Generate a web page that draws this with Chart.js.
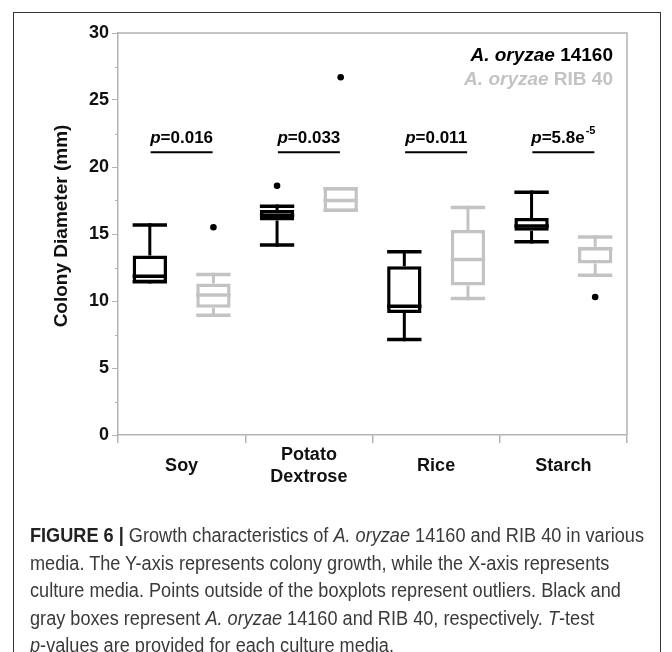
<!DOCTYPE html>
<html>
<head>
<meta charset="utf-8">
<script src="https://cdn.jsdelivr.net/npm/chart.js@4.4.1/dist/chart.umd.min.js"></script>
<style>
  html, body { margin: 0; padding: 0; background: #fff; }
  #wrap { position: relative; width: 672px; height: 652px; overflow: hidden; }
  #c { position: absolute; left: 0; top: 0; }
  #frame { position: absolute; left: 13px; top: 12px; width: 648px; height: 700px;
           border: 1px solid #333; box-sizing: border-box; }
  #caption { position: absolute; left: 30px; top: 522px; font-family: "Liberation Sans", Arial, sans-serif;
             font-size: 19.5px; color: #3a3a3a; line-height: 27.6px; transform-origin: 0 0; white-space: nowrap; }
  #caption b { color: #222; }
</style>
</head>
<body>
<div id="wrap">
  <div id="frame"></div>
  <canvas id="c" width="672" height="652"></canvas>
  <div id="caption">
    <div id="cap1"><b>FIGURE 6 |</b> Growth characteristics of <i>A. oryzae</i> 14160 and RIB 40 in various</div>
    <div>media. The Y-axis represents colony growth, while the X-axis represents</div>
    <div>culture media. Points outside of the boxplots represent outliers. Black and</div>
    <div>gray boxes represent <i>A. oryzae</i> 14160 and RIB 40, respectively. <i>T</i>-test</div>
    <div><i>p</i>-values are provided for each culture media.</div>
  </div>
</div>
<script>
// ---- data ----
const categories = ['Soy', ['Potato', 'Dextrose'], 'Rice', 'Starch'];
const seriesNames = ['A. oryzae 14160', 'A. oryzae RIB 40'];

const a14160Min    = [11.3, 14.05, 7.0, 14.3];
const a14160Q1     = [11.35, 16.0, 9.1, 15.25];
const a14160Median = [11.85, 16.4, 9.6, 15.6];
const a14160Q3     = [13.4, 16.8, 12.6, 16.2];
const a14160Max    = [15.8, 17.2, 13.8, 18.25];
const a14160Outliers = [[], [18.6], [], []];

const rib40Min    = [8.8, 16.65, 10.05, 11.8];
const rib40Q1     = [9.5, 16.65, 11.15, 12.8];
const rib40Median = [10.45, 17.5, 13.1, 13.9];
const rib40Q3     = [11.3, 18.5, 15.3, 14.05];
const rib40Max    = [12.1, 18.5, 17.1, 14.9];
const rib40Outliers = [[15.5], [26.7], [], [10.3]];

const pLabels = [['0.016', ''], ['0.033', ''], ['0.011', ''], ['5.8e', '-5']];
const yTicks = [0, 5, 10, 15, 20, 25, 30];

// ---- styling ----
const BLACK = '#000000';
const GRAY = '#c3c3c3';
const AXIS = '#b3b3b3';
const FONT = '"Liberation Sans", Arial, sans-serif';

const stats = [
  { min: a14160Min, q1: a14160Q1, med: a14160Median, q3: a14160Q3, max: a14160Max, out: a14160Outliers, color: BLACK },
  { min: rib40Min, q1: rib40Q1, med: rib40Median, q3: rib40Q3, max: rib40Max, out: rib40Outliers, color: GRAY }
];

const boxPlugin = {
  id: 'boxExtras',
  afterDatasetsDraw(chart) {
    const ctx = chart.ctx;
    const y = chart.scales.y;
    const x = chart.scales.x;
    const area = chart.chartArea;
    ctx.save();
    stats.forEach((s, d) => {
      const meta = chart.getDatasetMeta(d);
      meta.data.forEach((el, i) => {
        const cx = el.x, w = el.width;
        ctx.strokeStyle = s.color;
        ctx.lineCap = 'butt';
        ctx.lineWidth = 3;
        ctx.beginPath();
        ctx.moveTo(cx, y.getPixelForValue(s.q3[i]));
        ctx.lineTo(cx, y.getPixelForValue(s.max[i]));
        ctx.moveTo(cx, y.getPixelForValue(s.q1[i]));
        ctx.lineTo(cx, y.getPixelForValue(s.min[i]));
        ctx.stroke();
        ctx.lineWidth = 3.5;
        ctx.beginPath();
        const yMax = y.getPixelForValue(s.max[i]) + 1.75;
        const yMin = y.getPixelForValue(s.min[i]) - 1.75;
        ctx.moveTo(cx - w / 2, yMax); ctx.lineTo(cx + w / 2, yMax);
        ctx.moveTo(cx - w / 2, yMin); ctx.lineTo(cx + w / 2, yMin);
        const ym = y.getPixelForValue(s.med[i]);
        ctx.moveTo(cx - w / 2, ym); ctx.lineTo(cx + w / 2, ym);
        ctx.stroke();
        ctx.fillStyle = BLACK;
        s.out[i].forEach(v => {
          ctx.beginPath();
          ctx.arc(cx, y.getPixelForValue(v), 3.3, 0, Math.PI * 2);
          ctx.fill();
        });
      });
    });
    ctx.strokeStyle = AXIS;
    ctx.lineWidth = 1.5;
    ctx.beginPath();
    ctx.moveTo(area.left, area.top); ctx.lineTo(area.right, area.top);
    ctx.lineTo(area.right, area.bottom);
    ctx.stroke();
    ctx.lineWidth = 1;
    ctx.beginPath();
    for (let k = 0; k < yTicks.length - 1; k++) {
      const v = (yTicks[k] + yTicks[k + 1]) / 2;
      const py = Math.round(y.getPixelForValue(v)) + 0.5;
      ctx.moveTo(area.left - 3, py); ctx.lineTo(area.left, py);
    }
    ctx.stroke();
    pLabels.forEach((p, i) => {
      const cx = x.getPixelForValue(i);
      const ty = y.getPixelForValue(22.15);
      const ly = y.getPixelForValue(21.1);
      ctx.fillStyle = BLACK;
      ctx.textBaseline = 'middle';
      ctx.textAlign = 'left';
      const fIt = 'italic bold 17px ' + FONT;
      const fB = 'bold 17px ' + FONT;
      const fSup = 'bold 11px ' + FONT;
      ctx.font = fIt; const wp = ctx.measureText('p').width;
      ctx.font = fB; const wm = ctx.measureText('=' + p[0]).width;
      ctx.font = fSup; const ws = p[1] ? ctx.measureText(p[1]).width + 1 : 0;
      const sx = cx - (wp + wm + ws) / 2;
      ctx.font = fIt; ctx.fillText('p', sx, ty);
      ctx.font = fB; ctx.fillText('=' + p[0], sx + wp, ty);
      if (p[1]) { ctx.font = fSup; ctx.fillText(p[1], sx + wp + wm + 1, ty - 7); }
      ctx.strokeStyle = BLACK;
      ctx.lineWidth = 2;
      ctx.beginPath();
      ctx.moveTo(cx - 31, ly); ctx.lineTo(cx + 31, ly);
      ctx.stroke();
    });
    ctx.textAlign = 'left';
    ctx.textBaseline = 'middle';
    const legendY = [56, 80];
    const legendColors = [BLACK, GRAY];
    seriesNames.forEach((name, k) => {
      const parts = name.split(' ');
      const italicPart = parts.slice(0, 2).join(' ') + ' ';
      const rest = parts.slice(2).join(' ');
      ctx.font = 'italic bold 19px ' + FONT; const w1 = ctx.measureText(italicPart).width;
      ctx.font = 'bold 19px ' + FONT; const w2 = ctx.measureText(rest).width;
      const sx = 613 - w1 - w2;
      ctx.fillStyle = legendColors[k];
      ctx.font = 'italic bold 19px ' + FONT; ctx.fillText(italicPart, sx, legendY[k]);
      ctx.font = 'bold 19px ' + FONT; ctx.fillText(rest, sx + w1, legendY[k]);
    });
    ctx.save();
    ctx.translate(62, 226);
    ctx.rotate(-Math.PI / 2);
    ctx.textAlign = 'center';
    ctx.textBaseline = 'middle';
    ctx.fillStyle = '#111';
    ctx.font = 'bold 19px ' + FONT;
    ctx.fillText('Colony Diameter (mm)', 0, 0);
    ctx.restore();
    ctx.restore();
  }
};

new Chart(document.getElementById('c'), {
  type: 'bar',
  data: {
    labels: categories,
    datasets: stats.map((s, d) => ({
      label: seriesNames[d],
      data: categories.map((_, i) => [s.q1[i], s.q3[i]]),
      backgroundColor: '#ffffff',
      borderColor: s.color,
      borderWidth: 3.5,
      borderSkipped: false,
      categoryPercentage: 1.0,
      barPercentage: 0.54
    }))
  },
  options: {
    responsive: false,
    animation: false,
    devicePixelRatio: 1,
    layout: { padding: { top: 33, right: 45, left: 0, bottom: 0 } },
    plugins: { legend: { display: false }, tooltip: { enabled: false } },
    scales: {
      x: {
        afterFit(scale) { scale.height = 217; },
        grid: { offset: true, drawOnChartArea: false, color: AXIS, tickLength: 8, lineWidth: 1.5 },
        border: { color: AXIS, width: 1.5 },
        ticks: { color: '#111', font: { family: FONT, size: 18, weight: 'bold', lineHeight: 1.22 }, crossAlign: 'center', padding: 12 }
      },
      y: {
        min: 0, max: 30,
        afterFit(scale) { scale.width = 118; },
        afterBuildTicks(scale) { scale.ticks = yTicks.map(v => ({ value: v })); },
        grid: { drawOnChartArea: false, color: AXIS, tickLength: 6, lineWidth: 1 },
        border: { color: AXIS, width: 1.5 },
        ticks: { color: '#111', font: { family: FONT, size: 18, weight: 'bold' }, padding: 3 }
      }
    }
  },
  plugins: [boxPlugin]
});

(function () {
  const cap = document.getElementById('caption');
  const l1 = document.getElementById('cap1');
  const range = document.createRange();
  range.selectNodeContents(l1);
  const tw = range.getBoundingClientRect().width;
  cap.style.transform = 'scaleX(' + (614 / tw) + ')';
})();
</script>
</body>
</html>
